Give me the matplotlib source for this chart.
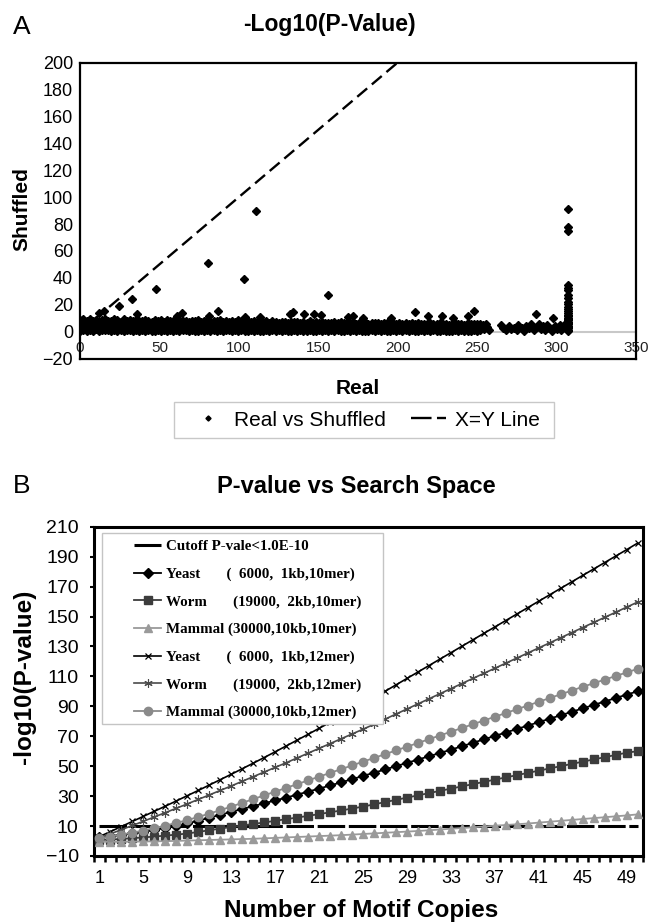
import matplotlib
matplotlib.use('Agg')
import numpy as np
import matplotlib.pyplot as plt
from matplotlib.lines import Line2D
from matplotlib.patches import Rectangle

plt.rcParams['font.family'] = ['Liberation Sans', 'DejaVu Sans']

# ---------------- panel A : real vs shuffled -log10(p) ----------------
# dense band of motifs near zero (three layers)
band_x = [0.3, 2.2, 4.1, 6.1, 8.0, 10.0, 11.9, 13.9, 15.8, 17.8,
          19.7, 21.7, 23.6, 25.6, 27.5, 29.5, 31.4, 33.4, 35.3, 37.3,
          39.2, 41.2, 43.1, 45.1, 47.0, 49.0, 50.9, 52.9, 54.8, 56.8,
          58.7, 60.7, 62.6, 64.6, 66.5, 68.5, 70.4, 72.4, 74.3, 76.3,
          78.2, 80.2, 82.1, 84.1, 86.0, 88.0, 89.9, 91.9, 93.8, 95.8,
          97.7, 99.7, 101.6, 103.6, 105.5, 107.5, 109.4, 111.4, 113.3, 115.3,
          117.2, 119.2, 121.1, 123.1, 125.0, 127.0, 128.9, 130.9, 132.8, 134.8,
          136.7, 138.7, 140.6, 142.6, 144.5, 146.5, 148.4, 150.4, 152.3, 154.3,
          156.2, 158.2, 160.1, 162.1, 164.0, 166.0, 167.9, 169.9, 171.8, 173.8,
          175.7, 177.7, 179.6, 181.6, 183.5, 185.5, 187.4, 189.4, 191.3, 193.3,
          195.2, 197.2, 199.1, 201.1, 203.0, 205.0, 206.9, 208.9, 210.8, 212.8,
          214.7, 216.7, 218.6, 220.6, 222.5, 224.5, 226.4, 228.4, 230.3, 232.3,
          234.2, 236.2, 238.1, 240.1, 242.0, 244.0, 245.9, 247.9, 249.8, 251.8]
band_top = [8.5, 9.2, 7.8, 9.6, 8.1, 9.0, 7.5, 8.8, 9.4, 8.2,
            7.9, 9.1, 8.6, 7.4, 9.3, 8.0, 8.7, 7.6, 9.0, 8.3,
            7.7, 8.9, 8.1, 7.3, 8.6, 7.9, 8.4, 7.2, 8.8, 7.6,
            8.2, 7.5, 9.0, 7.8, 8.3, 7.1, 8.0, 7.7, 8.5, 7.3,
            7.9, 8.6, 7.4, 8.1, 7.6, 8.9, 7.2, 8.0, 7.5, 8.3,
            7.0, 8.4, 7.7, 7.3, 8.1, 6.9, 7.8, 7.4, 8.2, 7.1,
            7.6, 6.8, 7.9, 7.2, 6.6, 7.5, 7.0, 6.7, 7.4, 6.9,
            7.3, 6.5, 7.1, 6.8, 7.6, 6.4, 7.0, 6.6, 7.2, 6.3,
            6.8, 6.2, 7.1, 6.5, 6.9, 6.1, 6.7, 6.4, 7.0, 6.0,
            6.6, 6.2, 6.9, 5.9, 6.5, 6.1, 6.8, 5.8, 6.3, 6.6,
            6.0, 6.4, 5.7, 6.2, 5.9, 6.5, 5.6, 6.1, 5.8, 6.3,
            5.5, 6.0, 5.8, 6.4, 5.4, 5.9, 6.2, 5.6, 6.0, 5.3,
            5.8, 6.1, 5.5, 5.9, 5.2, 6.3, 5.6, 6.0, 5.4, 5.7]
band_mid = [4.6, 5.2, 3.9, 4.8, 5.5, 4.1, 5.0, 4.4, 5.3, 3.8,
            4.7, 5.1, 4.0, 4.9, 4.3, 5.4, 3.9, 4.6, 5.0, 4.2,
            4.8, 3.9, 4.5, 5.1, 4.0, 4.7, 4.2, 5.0, 3.8, 4.4,
            4.9, 4.1, 4.6, 3.9, 4.8, 4.3, 4.0, 4.7, 4.2, 4.5,
            3.9, 4.6, 4.1, 4.8, 4.0, 4.4, 4.7, 3.8, 4.5, 4.2,
            4.0, 4.6, 3.7, 4.3, 4.5, 3.9, 4.2, 4.4, 3.8, 4.1,
            4.3, 3.7, 4.0, 4.2, 3.6, 4.1, 3.8, 4.0, 3.5, 3.9,
            4.1, 3.6, 3.9, 3.4, 4.0, 3.7, 3.5, 3.9, 3.3, 3.8,
            3.6, 3.9, 3.4, 3.7, 3.2, 3.8, 3.5, 3.3, 3.7, 3.4,
            3.1, 3.6, 3.4, 3.2, 3.7, 3.3, 3.0, 3.5, 3.2, 3.4,
            3.3, 2.9, 3.4, 3.1, 3.5, 3.0, 3.2, 2.8, 3.3, 3.1,
            2.9, 3.2, 3.0, 2.7, 3.3, 3.1, 2.8, 3.2, 2.9, 3.0,
            3.1, 2.7, 3.0, 3.2, 2.8, 3.1, 2.9, 2.6, 3.0, 2.8]
band_low = [0.8, 1.5, 0.4, 1.2, 0.6, 1.7, 0.3, 1.1, 0.9, 1.4,
            0.5, 1.3, 0.7, 1.6, 0.4, 1.0, 1.5, 0.6, 1.2, 0.3,
            1.1, 0.5, 1.4, 0.8, 0.2, 1.3, 0.7, 1.0, 0.4, 1.2,
            0.6, 1.5, 0.3, 0.9, 1.2, 0.5, 1.4, 0.8, 0.2, 1.1,
            0.7, 1.3, 0.4, 1.0, 0.6, 1.5, 0.3, 0.9, 1.2, 0.5,
            1.0, 0.4, 1.3, 0.7, 0.2, 1.1, 0.6, 1.4, 0.3, 0.8,
            1.2, 0.5, 0.9, 0.3, 1.1, 0.6, 1.3, 0.4, 0.8, 1.0,
            0.5, 1.2, 0.7, 0.3, 1.0, 0.8, 0.4, 1.1, 0.6, 0.9,
            0.3, 1.0, 0.6, 1.2, 0.4, 0.8, 1.1, 0.5, 0.9, 0.7,
            1.1, 0.4, 0.8, 0.6, 1.0, 0.3, 0.9, 0.7, 1.2, 0.5,
            0.8, 1.1, 0.4, 0.9, 0.6, 1.0, 0.5, 1.2, 0.7, 0.3,
            1.0, 0.6, 0.9, 0.4, 1.1, 0.7, 0.5, 1.0, 0.8, 0.6,
            0.4, 0.9, 0.7, 1.1, 0.5, 0.8, 0.6, 1.0, 0.3, 0.9]

# scattered points above the band and the sparse tail after x=250
spread_x = [12, 15, 24.8, 32.6, 36,
            47.7, 61, 64, 80.3, 81,
            87, 103, 104, 110.8, 113,
            132, 134, 141, 147, 152,
            156, 169, 172, 178, 196,
            210.7, 219, 228, 235, 244,
            248,
            253.7, 254.5, 255.7, 256.5, 257.3,
            265, 266.5, 268, 270, 271,
            273, 275, 276, 278, 279.5,
            281, 282.5, 284, 285.5, 287,
            287.5, 289, 290, 291.5, 293,
            294, 295.5, 297, 298, 299,
            300.5, 302, 303, 304.5, 305.5]
spread_y = [14, 15, 19, 24, 13,
            32, 12, 14, 51, 12,
            15.5, 39.5, 11, 89.4, 11,
            13, 14.5, 13, 13, 12.5,
            27, 11, 12, 10.5, 10,
            14.8, 11.6, 11.6, 9.9, 11.6,
            15.3,
            5.0, 2.0, 6.0, 3.5, 1.5,
            5, 2.5, 1, 4, 2,
            3, 1.5, 5, 3, 0.5,
            4, 2.5, 5.5, 1, 12.8,
            3.5, 6, 2, 4.5, 1.5,
            5, 3, 0.8, 9.9, 4,
            2, 5, 1, 3.5, 6]

# vertical stack of points at the largest real value
column_x = 307.5
column_y = [0.5, 1.5, 2.5, 3.5, 4.5, 5.5, 6.5, 7.5, 8.5, 9.5,
            10.5, 11.5, 12.5, 14, 15.5, 17, 18.5, 20.5, 22.2, 24.7,
            27, 30.9, 32.8, 34.6, 74.8, 77.8, 90.9]

xy_line = [0, 200]

# ---------------- panel B : p-value vs search space ----------------
copies = list(range(1, 51))
cutoff = [10] * 50
yeast10 = [2.7, 3.4, 4.2, 5.1, 6.2, 7.4, 8.8, 10.2, 11.8, 13.6,
           15.5, 17.5, 19.5, 21.4, 23.3, 25.2, 27.1, 29.0, 31.0, 33.0,
           35.0, 37.1, 39.2, 41.3, 43.5, 45.6, 47.8, 50.0, 52.2, 54.4,
           56.6, 58.8, 61.0, 63.3, 65.6, 67.9, 70.2, 72.5, 74.8, 77.1,
           79.4, 81.7, 84.0, 86.3, 88.6, 90.9, 93.2, 95.5, 97.8, 100.0]
worm10 = [0.7, 1.0, 1.4, 1.9, 2.4, 3.0, 3.6, 4.3, 5.0, 6.1,
          7.2, 8.3, 9.4, 10.4, 11.4, 12.4, 13.5, 14.6, 15.7, 16.8,
          18.0, 19.2, 20.4, 21.7, 23.0, 24.5, 26.0, 27.5, 29.0, 30.5,
          32.0, 33.5, 35.0, 36.5, 38.0, 39.5, 41.0, 42.5, 44.0, 45.5,
          47.0, 48.5, 50.0, 51.5, 53.0, 54.5, 56.0, 57.5, 59.0, 60.0]
mammal10 = [-0.5, -0.5, -0.5, -0.4, -0.3, -0.2, -0.1, 0.1, 0.3, 0.5,
            0.7, 0.9, 1.1, 1.3, 1.5, 1.8, 2.1, 2.4, 2.7, 3.0,
            3.3, 3.6, 3.9, 4.3, 4.7, 5.1, 5.5, 5.9, 6.3, 6.7,
            7.2, 7.7, 8.2, 8.7, 9.2, 9.7, 10.2, 10.7, 11.2, 11.7,
            12.3, 12.9, 13.5, 14.1, 14.7, 15.3, 15.9, 16.5, 17.1, 17.8]
yeast12 = [3.0, 6.3, 9.7, 13.1, 16.5, 19.9, 23.3, 26.8, 30.3, 33.8,
           37.4, 41.0, 44.6, 48.3, 52.0, 55.8, 59.6, 63.5, 67.4, 71.3,
           75.3, 79.3, 83.4, 87.5, 91.6, 95.8, 100.0, 104.3, 108.6, 112.9,
           117.2, 121.5, 125.8, 130.1, 134.4, 138.7, 143.0, 147.3, 151.6, 155.9,
           160.2, 164.5, 168.8, 173.1, 177.4, 181.7, 186.0, 190.3, 194.6, 199.0]
worm12 = [2.0, 4.8, 7.6, 10.4, 13.2, 16.1, 19.0, 21.9, 24.8, 27.8,
          30.8, 33.8, 36.8, 39.9, 43.0, 46.1, 49.2, 52.3, 55.5, 58.7,
          61.9, 65.1, 68.3, 71.5, 74.7, 78.0, 81.4, 84.8, 88.2, 91.6,
          95.0, 98.4, 101.8, 105.2, 108.6, 112.0, 115.4, 118.8, 122.2, 125.6,
          129.0, 132.4, 135.8, 139.2, 142.6, 146.0, 149.4, 152.8, 156.2, 159.6]
mammal12 = [1.8, 3.0, 4.3, 5.6, 7.0, 8.6, 10.3, 12.1, 14.0, 16.1,
            18.3, 20.6, 23.0, 25.5, 28.0, 30.5, 33.0, 35.5, 38.0, 40.5,
            43.0, 45.5, 48.0, 50.5, 53.0, 55.5, 58.0, 60.5, 63.0, 65.5,
            68.0, 70.5, 73.0, 75.5, 78.0, 80.5, 83.0, 85.5, 88.0, 90.5,
            93.0, 95.5, 98.0, 100.5, 103.0, 105.4, 107.8, 110.2, 112.6, 115.0]

series_labels = ['Cutoff P-vale<1.0E-10',
                 'Yeast       (  6000,  1kb,10mer)',
                 'Worm       (19000,  2kb,10mer)',
                 'Mammal (30000,10kb,10mer)',
                 'Yeast       (  6000,  1kb,12mer)',
                 'Worm       (19000,  2kb,12mer)',
                 'Mammal (30000,10kb,12mer)']

W, H = 649, 923


def fx(px):  # pixel -> figure fraction
    return px / W


def fy(py):
    return 1 - py / H


fig = plt.figure(figsize=(W / 100, H / 100), dpi=100)

# ================= panel A =================
ax_a = fig.add_axes([fx(80), fy(358.6), (636 - 80) / W, (358.6 - 62.5) / H])
all_x = band_x * 3 + spread_x + [column_x] * len(column_y)
all_y = band_top + band_mid + band_low + spread_y + column_y
ax_a.axhline(0, color='#c8c8c8', lw=1.5, zorder=1)
ax_a.plot(all_x, all_y, ls='none', marker='D', ms=3.6, color='black', zorder=3)
ax_a.plot(xy_line, xy_line, color='black', lw=1.7, ls=(0, (5.5, 2.6)), zorder=2)
ax_a.set_xlim(0, 350)
ax_a.set_ylim(-20, 200)
ax_a.set_xticks(range(0, 351, 50))
ax_a.set_yticks(range(-20, 201, 20))
ax_a.set_yticks(range(20, 181, 20), minor=True)
ax_a.yaxis.grid(True, which='minor', ls=':', color='#b4b4b4', lw=0.9)
ax_a.tick_params(axis='y', length=0, labelsize=13, pad=5)
ax_a.tick_params(axis='x', length=0, labelsize=11, pad=-13, labelcolor='#222222')
for sp in ax_a.spines.values():
    sp.set_linewidth(1.6)
    sp.set_color('black')

fig.text(fx(22), fy(27), 'A', fontsize=19, ha='center', va='center')
fig.text(fx(329), fy(25), '-Log10(P-Value)', fontsize=16.5, fontweight='bold',
         ha='center', va='center')
fig.text(fx(358), fy(388), 'Real', fontsize=15, fontweight='bold', ha='center', va='center')
fig.text(fx(22), fy(209), 'Shuffled', fontsize=15, fontweight='bold', rotation=90,
         ha='center', va='center')

# legend of panel A: frame drawn separately to get its exact extent
box_a = Rectangle((fx(174), fy(438.3)), (554 - 174) / W, (438.3 - 401.7) / H,
                  transform=fig.transFigure, facecolor='white', edgecolor='#c8c8c8',
                  lw=1.0, zorder=1)
fig.add_artist(box_a)
leg_a_handles = [Line2D([], [], ls='none', marker='D', ms=2.6, color='black'),
                 Line2D([], [], color='black', lw=1.7, ls=(0, (8.7, 2.3)))]
leg_a = fig.legend(leg_a_handles, ['Real vs Shuffled', 'X=Y Line'], ncol=2,
                   loc='center', bbox_to_anchor=(fx(365), fy(420)), fontsize=15,
                   frameon=False, handlelength=1.7, handletextpad=0.4,
                   columnspacing=1.2, borderpad=0)
leg_a.set_zorder(2)

# ================= panel B =================
ax_b = fig.add_axes([fx(94), fy(856), (643 - 94) / W, (856 - 526.7) / H])
ax_b.plot(copies, cutoff, color='black', lw=2.2, ls=(0, (9, 1.2)), zorder=3)
ax_b.plot(copies, yeast10, color='black', lw=1.3, marker='D', ms=5.2, zorder=3)
ax_b.plot(copies, worm10, color='#3c3c3c', lw=1.3, marker='s', ms=5.6, zorder=3)
ax_b.plot(copies, mammal10, color='#9a9a9a', lw=1.3, marker='^', ms=5.6, zorder=3)
ax_b.plot(copies, yeast12, color='black', lw=1.2, marker='x', ms=5.0, mew=0.9, zorder=3)
ax_b.plot(copies, worm12, color='#4a4a4a', lw=1.2, marker=(6, 2, 0), ms=6.0, mew=0.8, zorder=3)
ax_b.plot(copies, mammal12, color='#8a8a8a', lw=1.3, marker='o', ms=6.0, zorder=3)
ax_b.set_xlim(0.5, 50.5)
ax_b.set_ylim(-10, 210)
ax_b.set_xticks(range(1, 50, 4))
ax_b.set_xticks(np.arange(0.5, 51, 1), minor=True)
ax_b.set_yticks(range(-10, 211, 20))
ax_b.set_yticks(range(30, 191, 20), minor=True)
ax_b.yaxis.grid(True, which='minor', ls=':', color='#b4b4b4', lw=0.9)
ax_b.tick_params(axis='x', which='major', length=0, labelsize=13, pad=10)
ax_b.tick_params(axis='x', which='minor', length=4.5, width=1.8, color='black')
ax_b.tick_params(axis='y', which='major', length=3, width=1.5, labelsize=14, pad=8)
ax_b.tick_params(axis='y', which='minor', length=0)
for sp in ax_b.spines.values():
    sp.set_linewidth(2.2)
    sp.set_color('black')

fig.text(fx(22), fy(486.5), 'B', fontsize=19, ha='center', va='center')
fig.text(fx(356), fy(486.5), 'P-value vs Search Space', fontsize=17, fontweight='bold',
         ha='center', va='center')
fig.text(fx(25), fy(677), '-log10(P-value)', fontsize=17.5, fontweight='bold',
         rotation=90, ha='center', va='center')
fig.text(fx(361), fy(911), 'Number of Motif Copies', fontsize=17.5, fontweight='bold',
         ha='center', va='center')

# legend box (white, covers the lines behind it)
box = Rectangle((fx(102), fy(724)), (383 - 102) / W, (724 - 533) / H,
                transform=fig.transFigure, facecolor='white', edgecolor='#c4c4c4',
                lw=1.0, zorder=5)
ax_b.add_artist(box)
leg_b = ax_b.legend(ax_b.get_lines()[:7], series_labels, loc='upper left',
                    bbox_to_anchor=(fx(134), fy(540)), bbox_transform=fig.transFigure,
                    frameon=False, borderpad=0, borderaxespad=0,
                    handlelength=1.8, handletextpad=0.3, labelspacing=0.93,
                    prop={'family': 'Liberation Serif', 'weight': 'bold', 'size': 10.8})
leg_b.set_zorder(6)

fig.savefig('out.png', dpi=100)
